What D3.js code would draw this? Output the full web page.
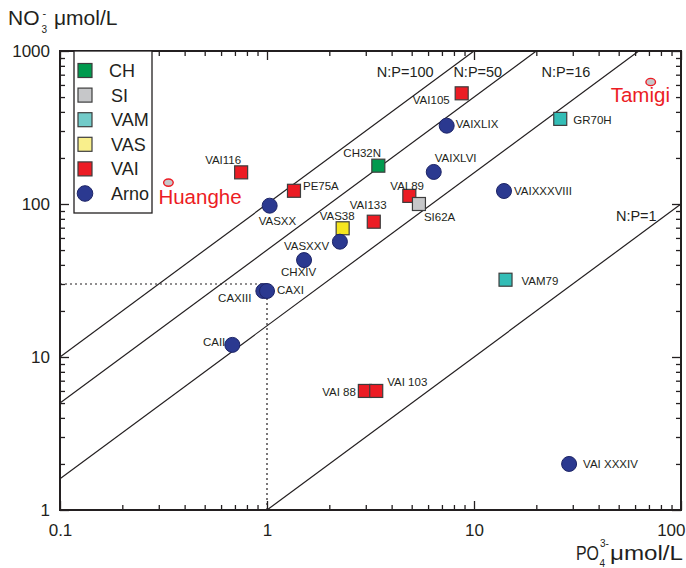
<!DOCTYPE html>
<html>
<head>
<meta charset="utf-8">
<script src="https://cdn.jsdelivr.net/npm/d3@7"></script>
<style>
  html, body { margin: 0; padding: 0; background: #fff; }
  svg { display: block; font-family: "Liberation Sans", Arial, Helvetica, sans-serif; }
</style>
</head>
<body>
<svg id="chart" width="686" height="568"></svg>
<script>
// ---- Data: nitrate vs phosphate (µmol/L) per sampling station ----
const groups = ["CH", "SI", "VAM", "VAS", "VAI", "Arno"];
const groupFill = ["#009a4e", "#c6c7c9", "#33bdb6", "#f6e61e", "#ec1c24", "#2b3990"];
const legendFill = ["#009a4e", "#c6c7c9", "#72cbc9", "#f9ef8c", "#ec1c24", "#2b3990"];

const stationNames = ["VAI116", "PE75A", "VAI 89", "SI62A", "VAI133", "VAS38", "CH32N",
  "VAI 88", "VAI 103", "VAI105", "GR70H", "VAM79",
  "VASXX", "VASXXV", "CHXIV", "CAXIII", "CAXI", "CAII",
  "VAIXLIX", "VAIXLVI", "VAIXXXVIII", "VAI XXXIV"];
const stationGroup = ["VAI", "VAI", "VAI", "SI", "VAI", "VAS", "CH",
  "VAI", "VAI", "VAI", "VAM", "VAM",
  "Arno", "Arno", "Arno", "Arno", "Arno", "Arno",
  "Arno", "Arno", "Arno", "Arno"];
const phosphate = [0.75, 1.35, 4.87, 5.42, 3.28, 2.32, 3.45,
  2.97, 3.37, 8.72, 26.1, 14.2,
  1.03, 2.25, 1.51, 0.96, 1.0, 0.68,
  7.38, 6.39, 13.96, 28.8];
const nitrate = [161, 122, 113, 100, 76.6, 69.4, 178,
  6.0, 6.0, 529, 360, 32,
  97.5, 56.7, 43, 27, 27, 12.0,
  325, 162, 121.6, 2.0];

// Reference rivers
const riverNames = ["Huanghe", "Tamigi"];
const riverPhosphate = [0.334, 71.4];
const riverNitrate = [138, 627];

// Redfield-type N:P reference lines
const ratioValues = [100, 50, 16, 1];
const ratioLabels = ["N:P=100", "N:P=50", "N:P=16", "N:P=1"];

// Guide lines marking PO4 = 1 and NO3 = 30
const guidePhosphate = 1;
const guideNitrate = 30;

// Axis ticks
const xTickLabels = ["0.1", "1", "10", "100"];
const yTickLabels = ["1", "10", "100", "1000"];

// ---- Layout ----
const svg = d3.select("#chart");
const padL = 60, padR = 681, padT = 51, padB = 510;
const x = d3.scaleLog().domain([0.1, 100]).range([padL, padR]);
const y = d3.scaleLog().domain([1, 1000]).range([padB, padT]);
const ink = "#231f20";
const markStroke = "#3d3d3d";

// label offsets (px from the mark centre) and anchors
const labelPlace = {
  "VAI116": [-36, -8, "start"], "PE75A": [9, -1, "start"], "VAI 89": [-19, -6, "start"],
  "SI62A": [5, 17, "start"], "VAI133": [-24, -13, "start"], "VAS38": [-23, -8, "start"],
  "CH32N": [-35, -9, "start"], "VAI 88": [-9, 5, "end"], "VAI 103": [11, -5, "start"],
  "VAI105": [-12, 11, "end"], "GR70H": [13, 5, "start"], "VAM79": [16, 5, "start"],
  "VASXX": [-11, 19, "start"], "VASXXV": [-56, 8, "start"], "CHXIV": [-23, 16, "start"],
  "CAXIII": [-12, 11, "end"], "CAXI": [10, 3, "start"], "CAII": [-7, 1, "end"],
  "VAIXLIX": [9, 2, "start"], "VAIXLVI": [1, -10, "start"], "VAIXXXVIII": [10, 4, "start"],
  "VAI XXXIV": [14, 4, "start"]
};
const riverPlace = {"Huanghe": [-10, 21], "Tamigi": [-40, 20]};
// N:P label anchors in data space
const ratioLabelPos = [[3.39, 676], [7.95, 676], [21.2, 676], [48.5, 77.4]];

svg.append("defs").append("clipPath").attr("id", "plot")
  .append("rect").attr("x", padL).attr("y", padT).attr("width", padR - padL).attr("height", padB - padT);

// ---- Axes (ticks drawn inward on all four sides) ----
function decadeTicks(lo, hi) {
  const major = [], minor = [];
  for (let p = lo; p < hi; p++) {
    major.push(Math.pow(10, p));
    for (let k = 2; k <= 9; k++) minor.push(k * Math.pow(10, p));
  }
  major.push(Math.pow(10, hi));
  return {major, minor};
}
const xt = decadeTicks(-1, 2), yt = decadeTicks(0, 3);
const majorLen = 9, minorLen = 5;

function drawAxis(axisFn, scale, ticks, transform, labels) {
  const gMinor = svg.append("g").attr("transform", transform)
    .call(axisFn(scale).tickValues(ticks.minor).tickSize(-minorLen).tickSizeOuter(0).tickFormat(""));
  const gMajor = svg.append("g").attr("transform", transform)
    .call(axisFn(scale).tickValues(ticks.major).tickSize(-majorLen).tickSizeOuter(0)
      .tickPadding(axisFn === d3.axisBottom ? 13.5 : 10)
      .tickFormat(labels ? (d, i) => labels[i] : ""));
  [gMinor, gMajor].forEach(g => {
    g.select(".domain").remove();
    g.selectAll("line").attr("stroke", ink).attr("stroke-width", 1.3);
    g.selectAll("text").attr("fill", ink).attr("font-size", 17)
      .attr("font-family", "'Liberation Sans', Arial, sans-serif");
  });
  return gMajor;
}
const xAxisG = drawAxis(d3.axisBottom, x, xt, `translate(0,${padB})`, xTickLabels);
// keep the last decade label inside the page edge
xAxisG.selectAll(".tick text").filter(d => d === 100).attr("text-anchor", "end").attr("dx", 4);
drawAxis(d3.axisTop, x, xt, `translate(0,${padT})`, null);
drawAxis(d3.axisLeft, y, yt, `translate(${padL},0)`, yTickLabels);
drawAxis(d3.axisRight, y, yt, `translate(${padR},0)`, null);

svg.append("rect").attr("x", padL).attr("y", padT).attr("width", padR - padL).attr("height", padB - padT)
  .attr("fill", "none").attr("stroke", ink).attr("stroke-width", 2);

// ---- N:P ratio lines ----
const plot = svg.append("g").attr("clip-path", "url(#plot)");
ratioValues.forEach(r => {
  const x0 = Math.max(0.1, 1 / r), x1 = Math.min(100, 1000 / r);
  plot.append("line")
    .attr("x1", x(x0)).attr("y1", y(r * x0)).attr("x2", x(x1)).attr("y2", y(r * x1))
    .attr("stroke", ink).attr("stroke-width", 1.2);
});
ratioLabels.forEach((t, i) => {
  svg.append("text").attr("x", x(ratioLabelPos[i][0])).attr("y", y(ratioLabelPos[i][1]))
    .attr("font-size", 14.5).attr("fill", ink).text(t);
});

// dotted guides at PO4 = 1 and NO3 = 30
plot.append("line").attr("x1", x(0.1)).attr("x2", x(guidePhosphate))
  .attr("y1", y(guideNitrate)).attr("y2", y(guideNitrate))
  .attr("stroke", ink).attr("stroke-width", 1.2).attr("stroke-dasharray", "2,3");
plot.append("line").attr("x1", x(guidePhosphate)).attr("x2", x(guidePhosphate))
  .attr("y1", y(1)).attr("y2", y(guideNitrate))
  .attr("stroke", ink).attr("stroke-width", 1.2).attr("stroke-dasharray", "2,3");

// ---- Stations ----
const color = d3.scaleOrdinal().domain(groups).range(groupFill);
const stations = stationNames.map((n, i) => ({name: n, group: stationGroup[i], p: phosphate[i], n: nitrate[i]}));
// squares first, grey SI above the overlapping red one, circles last
const order = ["VAI", "CH", "VAS", "VAM", "SI", "Arno"];
stations.sort((a, b) => order.indexOf(a.group) - order.indexOf(b.group));

const sq = 13, rad = 7.5;
stations.forEach(d => {
  const cx = x(d.p), cy = y(d.n);
  if (d.group === "Arno") {
    svg.append("circle").attr("cx", cx).attr("cy", cy).attr("r", rad)
      .attr("fill", color(d.group)).attr("stroke", "#1d2466").attr("stroke-width", 1);
  } else {
    svg.append("rect").attr("x", cx - sq / 2).attr("y", cy - sq / 2).attr("width", sq).attr("height", sq)
      .attr("fill", color(d.group)).attr("stroke", markStroke).attr("stroke-width", 1.2);
  }
});
stations.forEach(d => {
  const pl = labelPlace[d.name];
  svg.append("text").attr("x", x(d.p) + pl[0]).attr("y", y(d.n) + pl[1])
    .attr("text-anchor", pl[2]).attr("font-size", 11.5).attr("fill", ink).text(d.name);
});

// ---- Reference rivers ----
riverNames.forEach((name, i) => {
  const cx = x(riverPhosphate[i]), cy = y(riverNitrate[i]);
  svg.append("ellipse").attr("cx", cx).attr("cy", cy).attr("rx", 4.8).attr("ry", 3.6)
    .attr("fill", "#c6c7c9").attr("stroke", "#ec1c24").attr("stroke-width", 1.4);
  svg.append("text").attr("x", cx + riverPlace[name][0]).attr("y", cy + riverPlace[name][1])
    .attr("font-size", 20.5).attr("fill", "#ec1c24").text(name);
});

// ---- Legend ----
const lg = svg.append("g");
lg.append("rect").attr("x", 74).attr("y", padT).attr("width", 78).attr("height", 162)
  .attr("fill", "#fff").attr("stroke", ink).attr("stroke-width", 1.3);
groups.forEach((g, i) => {
  const cy = 70.5 + i * 24.6;
  if (g === "Arno") {
    lg.append("circle").attr("cx", 85).attr("cy", cy).attr("r", 7.8)
      .attr("fill", legendFill[i]).attr("stroke", "#1d2466").attr("stroke-width", 1);
  } else {
    lg.append("rect").attr("x", 78).attr("y", cy - 7).attr("width", 14).attr("height", 14)
      .attr("fill", legendFill[i]).attr("stroke", markStroke).attr("stroke-width", 1.2);
  }
  lg.append("text").attr("x", g === "CH" ? 109 : 111).attr("y", cy + 6.5)
    .attr("font-size", 18).attr("fill", ink).text(g);
});

// ---- Axis titles (sub/superscripts as tspans of one text) ----
const yTitle = svg.append("text").attr("fill", ink).attr("y", 25);
yTitle.append("tspan").attr("x", 8).attr("font-size", 21).text("NO");
yTitle.append("tspan").attr("x", 41.5).attr("y", 33).attr("font-size", 10).text("3");
yTitle.append("tspan").attr("x", 42.5).attr("y", 17).attr("font-size", 11).text("-");
yTitle.append("tspan").attr("x", 54).attr("y", 25).attr("font-size", 21).text("\u03bcmol/L");

const xTitle = svg.append("text").attr("fill", ink).attr("y", 560);
xTitle.append("tspan").attr("x", 576).attr("font-size", 20)
  .attr("textLength", 23).attr("lengthAdjust", "spacingAndGlyphs").text("PO");
xTitle.append("tspan").attr("x", 599.5).attr("y", 567).attr("font-size", 10).text("4");
xTitle.append("tspan").attr("x", 600).attr("y", 547).attr("font-size", 10).text("3-");
xTitle.append("tspan").attr("x", 610).attr("y", 560).attr("font-size", 20)
  .attr("textLength", 73).attr("lengthAdjust", "spacingAndGlyphs").text("\u03bcmol/L");
</script>
</body>
</html>
